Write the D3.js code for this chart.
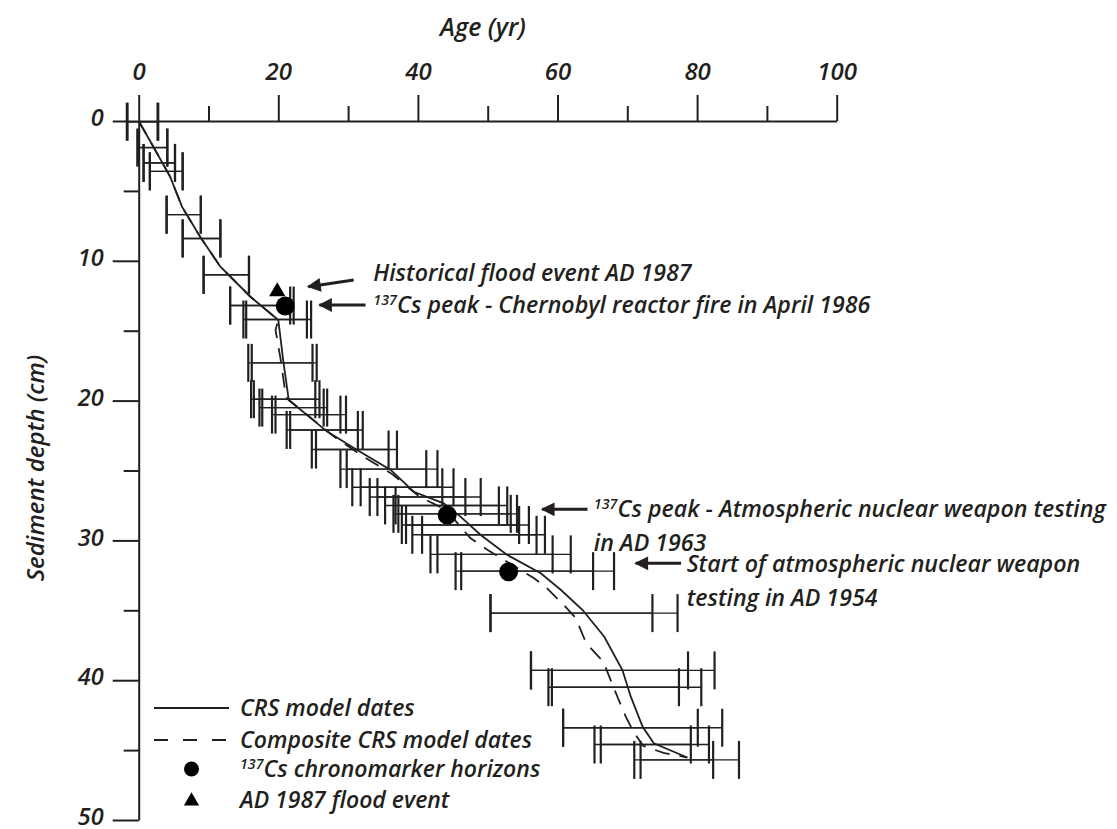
<!DOCTYPE html>
<html>
<head>
<meta charset="utf-8">
<script src="https://cdn.jsdelivr.net/npm/d3@7"></script>
<style>
  html, body { margin: 0; padding: 0; background: #fff; }
  svg text { font-family: "Open Sans", "Noto Sans", sans-serif; font-style: italic; font-weight: 600; fill: #231f20; }
</style>
</head>
<body>
<svg id="chart" width="1117" height="829"></svg>
<script>
// ---- Sample depths (cm) and age uncertainty ranges (yr) ----
const depthCm = [0.05, 1.9, 3.0, 3.6, 6.7, 8.4, 11.0, 13.2, 14.2, 17.3, 19.9, 20.5, 21.0, 22.1, 23.5,
                 24.9, 26.2, 26.9, 27.5, 28.1, 28.9, 29.6, 31.0, 32.2, 35.2, 39.3, 40.5, 43.4, 44.6, 45.7];
const crsLo  = [-1.7, -0.2, 0.7, 1.6, 4.0, 6.3, 9.3, 13.1, 15.0, 15.7, 16.1, 17.3, 19.1, 21.2, 24.8,
                28.9, 30.6, 33.1, 35.3, 36.5, 37.7, 39.2, 41.8, 45.4, 50.4, 56.2, 58.7, 60.8, 65.3, 71.0];
const crsHi  = [2.7, 4.1, 5.2, 6.3, 8.9, 11.7, 15.8, 22.2, 24.7, 25.5, 25.9, 27.0, 29.7, 32.1, 37.0,
                42.8, 45.1, 49.0, 52.8, 54.2, 55.9, 58.2, 61.9, 68.1, 77.2, 82.5, 80.6, 83.6, 81.7, 86.0];
const compLo = [-1.6, 0.0, 0.7, 1.6, 4.0, 6.3, 9.3, 13.1, 15.4, 16.2, 16.5, 17.7, 19.6, 21.7, 25.4,
                29.8, 31.8, 34.2, 36.8, 37.2, 38.3, 40.6, 42.8, 46.2, 50.4, 56.2, 59.2, 60.8, 66.2, 71.9];
const compHi = [2.8, 4.1, 5.2, 6.3, 8.9, 11.7, 15.8, 21.7, 24.1, 24.9, 25.3, 26.5, 28.9, 31.4, 35.8,
                41.2, 43.5, 46.8, 51.6, 53.3, 54.5, 57.0, 59.3, 65.1, 73.6, 78.7, 77.4, 80.1, 79.1, 82.3];

// ---- CRS model age-depth curve ----
const crsAge   = [0, 2.1, 4.5, 6.2, 8.8, 11.7, 16.0, 20.0, 20.7, 21.5, 27.0, 31.3, 36.1, 39.4, 43.7, 46.1,
                  49.0, 52.8, 57.6, 60.5, 63.6, 66.7, 69.3, 70.5, 72.2, 73.8, 78.6];
const crsDepth = [0, 1.84, 3.98, 6.13, 8.28, 10.42, 12.57, 14.23, 17.1, 19.96, 22.22, 23.53, 24.96, 26.52,
                  27.35, 28.3, 29.61, 31.04, 32.35, 33.55, 34.98, 36.89, 39.27, 41.18, 43.33, 44.51, 45.53];

// ---- Composite CRS model age-depth curve ----
const compAge   = [0, 2.1, 4.5, 6.2, 8.8, 11.7, 16.0, 20.0, 19.6, 20.3, 21.1, 21.5, 28.3, 32.5, 36.3, 40.3,
                   44.0, 47.5, 50.0, 56.6, 58.3, 60.9, 62.6, 64.1, 66.6, 67.6, 68.6, 69.8, 70.9, 72.3, 75.2, 78.6];
const compDepth = [0, 1.84, 3.98, 6.13, 8.28, 10.42, 12.57, 14.23, 14.95, 16.95, 19.74, 19.96, 22.7, 24.1,
                   25.25, 26.9, 27.8, 29.83, 30.69, 32.69, 33.33, 34.62, 35.55, 37.34, 38.7, 39.98, 41.2,
                   42.63, 43.7, 44.7, 45.2, 45.53];

// ---- 137Cs chronomarkers and flood event ----
const csMarkerAge   = [21.0, 44.2, 53.0];
const csMarkerDepth = [13.23, 28.18, 32.24];
const floodAge   = [19.85];
const floodDepth = [12.2];

// ---- Axis ticks ----
const ageMajorTicks   = [0, 20, 40, 60, 80, 100];
const ageMinorTicks   = [10, 30, 50, 70, 90];
const depthMajorTicks = [0, 10, 20, 30, 40, 50];
const depthMinorTicks = [5, 15, 25, 35, 45];

// ---- Annotations (arrow tail/head and text anchor in age/depth units) ----
const noteTail = [[30.8, 11.37], [32.5, 13.16], [64.3, 27.78], [77.7, 31.64]];
const noteHead = [[24.3, 11.85], [25.9, 13.16], [57.8, 27.78], [71.2, 31.64]];
const noteText = [[33.6, 11.45], [33.6, 13.73], [65.2, 28.33], [78.5, 32.26]];
const noteLines = [
  [[null, "Historical flood event AD 1987"]],
  [["137", "Cs peak - Chernobyl reactor fire in April 1986"]],
  [["137", "Cs peak - Atmospheric nuclear weapon testing"], [null, "in AD 1963"]],
  [[null, "Start of atmospheric nuclear weapon"], [null, "testing in AD 1954"]]
];

const legendLabels = [
  [null, "CRS model dates"],
  [null, "Composite CRS model dates"],
  ["137", "Cs chronomarker horizons"],
  [null, "AD 1987 flood event"]
];

// ---- Drawing ----
const ink = "#231f20";
const svg = d3.select("#chart");
svg.append("rect").attr("width", 1117).attr("height", 829).attr("fill", "#fff");

const x = d3.scaleLinear().domain([0, 100]).range([138.7, 836.7]);
const y = d3.scaleLinear().domain([0, 50]).range([121, 820]);

function styleAxis(g) {
  g.selectAll(".domain").attr("stroke", ink).attr("stroke-width", 2);
  g.selectAll(".tick line").attr("stroke", ink).attr("stroke-width", 2);
  g.selectAll(".tick text").attr("font-size", 24).attr("fill", ink)
    .attr("font-family", null);
}

// Age axis along the top
const gx = svg.append("g").attr("transform", `translate(0,${y(0)})`);
gx.call(d3.axisTop(x).tickValues(ageMajorTicks).tickSize(26).tickSizeOuter(0)
  .tickPadding(15).tickFormat(d3.format("d")));
styleAxis(gx);
const gxMinor = svg.append("g").attr("transform", `translate(0,${y(0)})`);
gxMinor.call(d3.axisTop(x).tickValues(ageMinorTicks).tickSize(15).tickFormat(""));
gxMinor.select(".domain").remove();
styleAxis(gxMinor);

// Depth axis on the left
const gy = svg.append("g").attr("transform", `translate(${x(0)},0)`);
gy.call(d3.axisLeft(y).tickValues(depthMajorTicks).tickSize(26).tickSizeOuter(0)
  .tickPadding(9).tickFormat(d3.format("d")));
styleAxis(gy);
gy.selectAll(".tick text").attr("font-size", 23.5).attr("dy", "0.2em");
const gyMinor = svg.append("g").attr("transform", `translate(${x(0)},0)`);
gyMinor.call(d3.axisLeft(y).tickValues(depthMinorTicks).tickSize(15).tickFormat(""));
gyMinor.select(".domain").remove();
styleAxis(gyMinor);

// Axis titles
svg.append("text").attr("x", 483).attr("y", 36).attr("text-anchor", "middle")
  .attr("font-size", 25).text("Age (yr)");
svg.append("text").attr("transform", "translate(44,468) rotate(-90)")
  .attr("text-anchor", "middle").attr("font-size", 24).text("Sediment depth (cm)");

// Error bars: both uncertainty ranges are drawn at each sample depth
const capHalf = 19;
const bars = [];
depthCm.forEach((d, i) => {
  bars.push({ depth: d, lo: crsLo[i], hi: crsHi[i] });
  bars.push({ depth: d, lo: compLo[i], hi: compHi[i] });
});
const gBars = svg.append("g").attr("stroke", ink);
gBars.selectAll("line.span").data(bars).join("line")
  .attr("class", "span")
  .attr("x1", d => x(d.lo)).attr("x2", d => x(d.hi))
  .attr("y1", d => y(d.depth)).attr("y2", d => y(d.depth))
  .attr("stroke-width", 1.4);
const caps = bars.flatMap(b => [{ age: b.lo, depth: b.depth }, { age: b.hi, depth: b.depth }]);
gBars.selectAll("line.cap").data(caps).join("line")
  .attr("class", "cap")
  .attr("x1", d => x(d.age)).attr("x2", d => x(d.age))
  .attr("y1", d => y(d.depth) - capHalf).attr("y2", d => y(d.depth) + capHalf)
  .attr("stroke-width", 2.2);

// Age-depth models
const lineGen = d3.line().x(d => x(d[0])).y(d => y(d[1]));
svg.append("path").datum(compAge.map((a, i) => [a, compDepth[i]]))
  .attr("d", lineGen).attr("fill", "none").attr("stroke", ink)
  .attr("stroke-width", 1.8).attr("stroke-dasharray", "15,10");
svg.append("path").datum(crsAge.map((a, i) => [a, crsDepth[i]]))
  .attr("d", lineGen).attr("fill", "none").attr("stroke", ink)
  .attr("stroke-width", 1.8);

// Chronomarkers
const tri = d3.symbol().type(d3.symbolTriangle);
svg.selectAll("path.flood").data(floodAge.map((a, i) => [a, floodDepth[i]])).join("path")
  .attr("class", "flood")
  .attr("transform", d => `translate(${x(d[0])},${y(d[1])})`)
  .attr("d", tri.size(115)()).attr("fill", "#000");
svg.selectAll("circle.cs").data(csMarkerAge.map((a, i) => [a, csMarkerDepth[i]])).join("circle")
  .attr("class", "cs")
  .attr("cx", d => x(d[0])).attr("cy", d => y(d[1])).attr("r", 9.5).attr("fill", "#000");

// Annotation arrows and labels
const defs = svg.append("defs");
defs.append("marker").attr("id", "arrowhead")
  .attr("viewBox", "0 0 10 10").attr("refX", 9).attr("refY", 5)
  .attr("markerWidth", 6).attr("markerHeight", 4.6).attr("markerUnits", "strokeWidth")
  .attr("orient", "auto")
  .append("path").attr("d", "M0,0 L10,5 L0,10 Z").attr("fill", ink);

function writeLine(sel, parts, size) {
  const [sup, main] = parts;
  if (sup) {
    sel.append("tspan").attr("font-size", size * 0.62).attr("dy", -size * 0.36).text(sup);
    sel.append("tspan").attr("dy", size * 0.36).text(main);
  } else {
    sel.append("tspan").text(main);
  }
}

const noteSize = 23.2;
noteTail.forEach((t, i) => {
  const h = noteHead[i];
  svg.append("line")
    .attr("x1", x(t[0])).attr("y1", y(t[1]))
    .attr("x2", x(h[0])).attr("y2", y(h[1]))
    .attr("stroke", ink).attr("stroke-width", 3)
    .attr("marker-end", "url(#arrowhead)");
  const p = noteText[i];
  noteLines[i].forEach((ln, k) => {
    const txt = svg.append("text").attr("x", x(p[0])).attr("y", y(p[1]) + k * 34)
      .attr("font-size", noteSize);
    writeLine(txt, ln, noteSize);
  });
});

// Legend
const legX = 154, legW = 75, legTextX = 240, legSize = 23;
const legRows = [708, 740, 769, 800];
const lg = svg.append("g");
lg.append("line").attr("x1", legX).attr("x2", legX + legW).attr("y1", legRows[0]).attr("y2", legRows[0])
  .attr("stroke", ink).attr("stroke-width", 1.8);
lg.append("line").attr("x1", legX).attr("x2", legX + legW).attr("y1", legRows[1]).attr("y2", legRows[1])
  .attr("stroke", ink).attr("stroke-width", 1.8).attr("stroke-dasharray", "14,15");
lg.append("circle").attr("cx", legX + 37.5).attr("cy", legRows[2]).attr("r", 7.5).attr("fill", "#000");
lg.append("path").attr("transform", `translate(${legX + 37.5},${legRows[3] + 1})`)
  .attr("d", tri.size(100)()).attr("fill", "#000");
legendLabels.forEach((ln, i) => {
  const txt = lg.append("text").attr("x", legTextX).attr("y", legRows[i] + 8).attr("font-size", legSize);
  writeLine(txt, ln, legSize);
});
</script>
</body>
</html>
